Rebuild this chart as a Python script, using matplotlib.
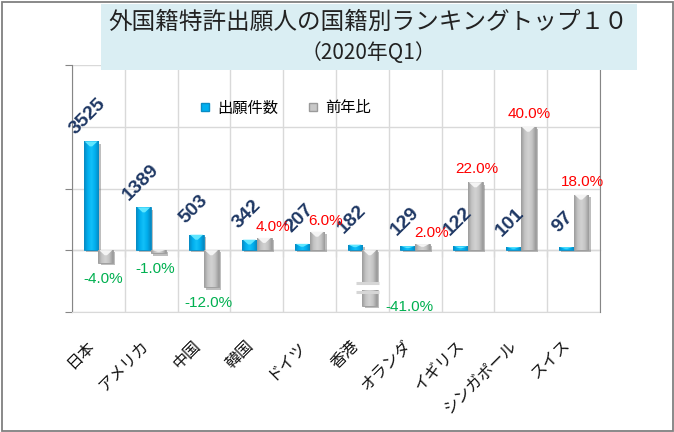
import numpy as np
import matplotlib
matplotlib.use('Agg')
import matplotlib.pyplot as plt
from matplotlib.patches import Rectangle, Polygon
from matplotlib.lines import Line2D
from matplotlib.colors import LinearSegmentedColormap
import matplotlib.patheffects as pe

plt.rcParams['font.family'] = ['Noto Sans CJK JP', 'DejaVu Sans']

# ---------------- data ----------------
title_line1 = '外国籍特許出願人の国籍別ランキングトップ１０'
title_line2 = '（2020年Q1）'
countries = ['日本', 'アメリカ', '中国', '韓国', 'ドイツ', '香港', 'オランダ', 'イギリス', 'シンガポール', 'スイス']
applications = [3525, 1389, 503, 342, 207, 182, 129, 122, 101, 97]
yoy_pct = [-4.0, -1.0, -12.0, 4.0, 6.0, -41.0, 2.0, 22.0, 40.0, 18.0]
series_names = ['出願件数', '前年比']

Y1_MIN, Y1_MAX = -2000, 6000
Y2_MIN, Y2_MAX = -20, 60

# ---------------- figure ----------------
FW, FH = 674, 432
fig = plt.figure(figsize=(FW / 100, FH / 100), dpi=100)
AX_L, AX_R, AX_T, AX_B = 72, 600, 65, 312
ax = fig.add_axes([AX_L / FW, 1 - AX_B / FH, (AX_R - AX_L) / FW, (AX_B - AX_T) / FH])
ax2 = ax.twinx()

axh_px = AX_B - AX_T
p1 = axh_px / (Y1_MAX - Y1_MIN)   # px per unit, primary
p2 = axh_px / (Y2_MAX - Y2_MIN)   # px per unit, secondary

GRID = '#D9D9D9'
AXC = '#868686'
x = np.arange(len(countries))
W = 0.28
OFF = 0.14

shadow = [pe.SimplePatchShadow(offset=(1.6, -1.6), shadow_rgbFace='#6F6F6F', alpha=0.45), pe.Normal()]

b1 = ax.bar(x - OFF, applications, W, color='#00B0F0', edgecolor='#0A8CC4', lw=0.6, zorder=3)
floor2 = Y2_MIN * 0.9
disp2 = [max(v, floor2) for v in yoy_pct]
b2 = ax2.bar(x + OFF, disp2, W, color='#C0C0C0', edgecolor='#9A9A9A', lw=0.6, zorder=3)


def shade(axis, bars, colors, top_color, ppu):
    cmap = LinearSegmentedColormap.from_list('g', colors)
    grad = np.linspace(0, 1, 64).reshape(1, -1)
    for r in bars:
        r.set_path_effects(shadow)
        x0, w = r.get_x(), r.get_width()
        y, h = r.get_y(), r.get_height()
        y0, y1 = min(y, y + h), max(y, y + h)
        im = axis.imshow(grad, cmap=cmap, extent=(x0, x0 + w, y0, y1), aspect='auto',
                         zorder=3.1, interpolation='bilinear')
        im.set_clip_path(r)
        d = min(5.0 / ppu, 0.45 * (y1 - y0))
        tri = Polygon([(x0 + w * 0.06, y1), (x0 + w * 0.94, y1), (x0 + w * 0.58, y1 - d),
                       (x0 + w * 0.42, y1 - d)], closed=True, facecolor=top_color,
                      edgecolor='none', zorder=3.2)
        axis.add_patch(tri)


shade(ax, b1, ['#0788C0', '#00AEEE', '#12C0F8', '#00AEEE', '#0788C0'], '#5FE6FF', p1)
shade(ax2, b2, ['#9C9C9C', '#C4C4C4', '#D2D2D2', '#C4C4C4', '#9A9A9A'], '#F4F4F4', p2)

# break marker for clipped bars
for i, v in enumerate(yoy_pct):
    if v < disp2[i]:
        yc = disp2[i] * 0.67
        hh = 6.0 / p2
        bx0 = x[i] + OFF - 0.27
        ax2.add_patch(Rectangle((bx0, yc - hh / 2), 0.45, hh, facecolor='white',
                                edgecolor='none', zorder=4))
        for sgn in (-1, 1):
            ax2.plot([bx0, bx0 + 0.45], [yc + sgn * (hh / 2 + 1.2 / p2)] * 2, color='#D6D6D6',
                     lw=2.2, solid_capstyle='butt', zorder=4)

# ---------------- labels ----------------
for i, v in enumerate(applications):
    ax2.annotate(f'{v}', xy=(x[i] - OFF, v), xycoords=ax.transData, xytext=(-3, 25),
                 textcoords='offset pixels', rotation=45, ha='center', va='center',
                 fontsize=14, fontweight='bold', color='#1F3864', family='Liberation Sans',
                 zorder=6)

for i, v in enumerate(yoy_pct):
    col = '#FF0000' if v > 0 else '#00B050'
    txt = f'{v:.1f}%'
    if v >= 0:
        small = v * p2 < 20
        ax2.annotate(txt, xy=(x[i] + OFF, disp2[i]), xytext=(9 if small else 1, 11 if small else 13),
                     textcoords='offset pixels', ha='center', va='center', fontsize=11, color=col,
                     family='Liberation Sans', zorder=6)
    elif v >= disp2[i]:
        ax2.annotate(txt, xy=(x[i] + OFF, disp2[i]), xytext=(-3, -16), textcoords='offset pixels',
                     ha='center', va='center', fontsize=11, color=col, family='Liberation Sans', zorder=6)
    else:
        ax2.annotate(txt, xy=(x[i] + OFF + W / 2, disp2[i]), xytext=(8, -1), textcoords='offset pixels',
                     ha='left', va='center', fontsize=11, color=col, family='Liberation Sans', zorder=6)

# ---------------- axes styling ----------------
ax.set_xlim(-0.5, len(countries) - 0.5)
ax.set_ylim(Y1_MIN, Y1_MAX)
ax2.set_ylim(Y2_MIN, Y2_MAX)

ax.set_xticks(x)
ax.set_xticklabels(countries, rotation=45, ha='right', fontsize=11.5, color='#111111')
ax.set_xticks(np.arange(-0.5, len(countries), 1), minor=True)
ax.tick_params(axis='x', which='both', length=0, pad=18)

ax.set_yticks([-2000, 0, 2000, 6000])
ax.set_yticks([4000], minor=True)
ax.tick_params(axis='y', which='major', length=5, color=AXC, labelleft=False)
ax.tick_params(axis='y', which='minor', length=0)

ax.grid(axis='x', which='minor', color=GRID, lw=1)
ax.grid(axis='y', which='both', color=GRID, lw=1)
ax.set_axisbelow(True)

for s in ['top', 'right']:
    ax.spines[s].set_visible(False)
ax.spines['bottom'].set_color(GRID)
ax.spines['left'].set_color(AXC)

ax2.set_yticks([])
for s in ['top', 'bottom', 'left']:
    ax2.spines[s].set_visible(False)
ax2.spines['right'].set_color(AXC)

zero_frac = (0 - Y1_MIN) / (Y1_MAX - Y1_MIN)
sec = ax.secondary_xaxis(zero_frac)
sec.set_xticks(np.arange(0.5, len(countries) - 1, 1))
sec.tick_params(axis='x', length=5, color=AXC, labelbottom=False)
sec.spines['bottom'].set_color(AXC)

handles = [Line2D([], [], marker='s', ls='', markersize=5.5, markerfacecolor='#00B0F0',
                  markeredgecolor='#0A8CC4'),
           Line2D([], [], marker='s', ls='', markersize=5.5, markerfacecolor='#C8C8C8',
                  markeredgecolor='#9A9A9A')]
ax2.legend(handles, series_names, loc='center', bbox_to_anchor=(0.405, 0.826), ncol=2,
           frameon=False, fontsize=11, handlelength=0.6, handletextpad=0.5, columnspacing=2.0)

# ---------------- title box ----------------
fig.patches.append(Rectangle((101 / FW, 1 - 70 / FH), (637 - 101) / FW, 66 / FH,
                             transform=fig.transFigure, facecolor='#DAEEF3', edgecolor='none', zorder=5))
fig.text(0.547, 1 - 22 / FH, title_line1, ha='center', va='center', fontsize=17, color='#222222', zorder=6)
fig.text(0.547, 1 - 53 / FH, title_line2, ha='center', va='center', fontsize=15, color='#222222', zorder=6)

fig.patches.append(Rectangle((1.5 / FW, 1.5 / FH), (FW - 3) / FW, (FH - 3) / FH, transform=fig.transFigure,
                             fill=False, edgecolor='#808080', lw=1.3, zorder=10))

fig.savefig('out.png', dpi=100)
